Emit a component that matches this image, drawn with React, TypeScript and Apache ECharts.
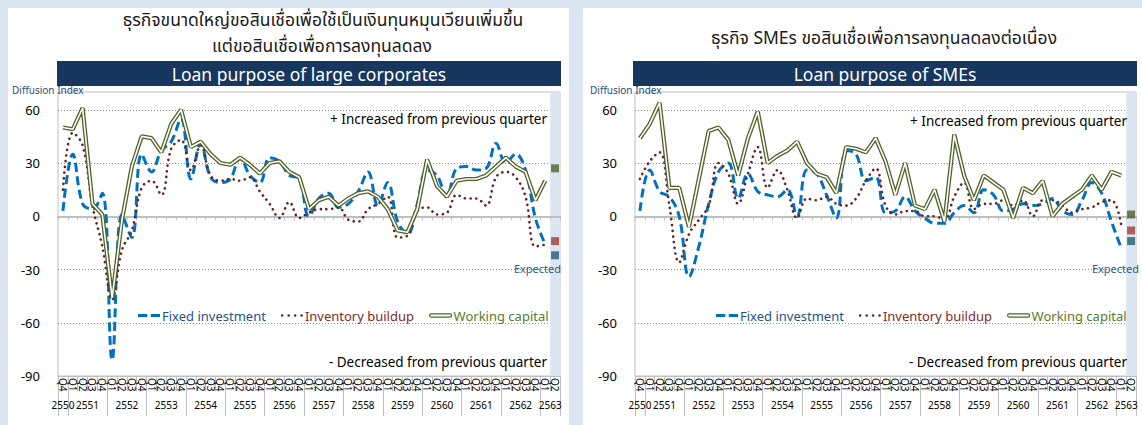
import React, { useEffect, useRef } from 'react';
import * as echarts from 'echarts';

// ---------- Labels ----------
const years = ['2550', '2551', '2552', '2553', '2554', '2555', '2556', '2557', '2558', '2559', '2560', '2561', '2562', '2563'];
const yearQuarters: string[][] = [
  ['Q4'],
  ['Q1', 'Q2', 'Q3', 'Q4'], ['Q1', 'Q2', 'Q3', 'Q4'], ['Q1', 'Q2', 'Q3', 'Q4'], ['Q1', 'Q2', 'Q3', 'Q4'],
  ['Q1', 'Q2', 'Q3', 'Q4'], ['Q1', 'Q2', 'Q3', 'Q4'], ['Q1', 'Q2', 'Q3', 'Q4'], ['Q1', 'Q2', 'Q3', 'Q4'],
  ['Q1', 'Q2', 'Q3', 'Q4'], ['Q1', 'Q2', 'Q3', 'Q4'], ['Q1', 'Q2', 'Q3', 'Q4'], ['Q1', 'Q2', 'Q3', 'Q4'],
  ['Q1', 'Q2'],
];
const yTicks = [-90, -60, -30, 0, 30, 60];

// ---------- Large corporates ----------
const largeFixed = [3, 35, 7, 4, 13, -81, 1, -12, 35, 25, 37, 42, 55, 21, 41, 22, 19, 21, 33, 23, 19, 33, 31, 23, 21, 0, 10, 13, 5, 7, 14, 25, 6, 19, -3, -10, 7, 26, 23, 11, 27, 28, 26, 27, 41, 30, 35, 26, -1, -16];
const largeInventory = [15, 47, 40, 6, -17, -47, -19, -8, 16, 20, 12, 38, 43, 26, 40, 23, 20, 21, 20, 22, 14, 7, -1, 8, -1, 2, 4, 4, 5, -2, -3, 4, 7, 11, -12, -11, 3, 5, 1, 2, 12, 10, 10, 6, 22, 25, 22, 11, -17, -16];
const largeWorking = [50, 49, 61, 7, 1, -46, -2, 28, 45, 44, 36, 52, 60, 39, 42, 35, 30, 29, 33, 29, 24, 30, 31, 25, 22, 4, 9, 11, 6, 10, 13, 14, 11, 4, -8, -9, 4, 32, 17, 11, 20, 21, 21, 23, 28, 33, 28, 25, 9, 20];
const largeExpected = { fixed: -22, inventory: -14, working: 27 };

// ---------- SMEs ----------
const smeFixed = [3, 26, 14, 11, 0, -34, -17, 7, 25, 30, 10, 24, 14, 12, 11, 15, 0, 26, 24, 12, -1, 37, 35, 20, 22, 2, 3, 11, 3, -1, -4, -4, 2, 6, 2, 15, 12, 3, 4, 7, 6, 7, 10, 3, 1, 9, 19, 13, -3, -18];
const smeInventory = [21, 31, 36, 6, -26, -10, -2, 6, 30, 24, 7, 24, 39, 16, 26, 15, -1, 10, 9, 11, 7, 6, 10, 20, 27, 6, 1, 3, 3, 0, 0, -2, 11, 19, 4, 7, 7, 9, 6, 9, 0, 9, 9, 6, 2, 4, 5, 8, 9, -5];
const smeWorking = [44, 52, 64, 16, 16, -6, 21, 48, 50, 43, 23, 44, 59, 30, 34, 37, 42, 30, 24, 22, 13, 39, 38, 36, 44, 31, 12, 30, 6, 4, 15, -3, 46, 23, 9, 23, 19, 15, -1, 16, 13, 20, 0, 7, 11, 15, 23, 15, 25, 23];
const smeExpected = { fixed: -14, inventory: -8, working: 1 };

// ---------- Derived category structure ----------
const categories: string[] = [];
const yearCenters: number[] = [];
const yearBounds: number[] = [0];
{
  let start = 0;
  years.forEach((y, i) => {
    yearQuarters[i].forEach((q) => categories.push(y + '-' + q));
    yearCenters.push(start + yearQuarters[i].length / 2);
    start += yearQuarters[i].length;
    yearBounds.push(start);
  });
}
const N = categories.length;
const lastCat = categories[N - 1];

const FONT = "'Noto Sans', 'DejaVu Sans', sans-serif";
const THAI = "'Noto Sans Thai', 'Noto Sans Thai UI', 'Noto Sans', Tahoma, sans-serif";
const GRAY = '#bfbfbf';
const BLUE = '#0070c0';
const RED = '#632523';
const GREEN = '#4f6228';

const DASH_ICON = 'path://M0,0h9v3h-9z M12.5,0h9v3h-9z';
const DOT_ICON = 'path://M0,1.2a1.2,1.2 0 1,0 2.4,0a1.2,1.2 0 1,0 -2.4,0z M6,1.2a1.2,1.2 0 1,0 2.4,0a1.2,1.2 0 1,0 -2.4,0z M12,1.2a1.2,1.2 0 1,0 2.4,0a1.2,1.2 0 1,0 -2.4,0z M18,1.2a1.2,1.2 0 1,0 2.4,0a1.2,1.2 0 1,0 -2.4,0z';
const DOUBLE_ICON = 'path://M1.5,0h21a1.5,1.5 0 0,1 0,3.6h-21a1.5,1.5 0 0,1 0,-3.6z';

function buildAxes(gi: number) {
  const xAxes = [
    {
      gridIndex: gi, type: 'category', data: categories, boundaryGap: true, position: 'bottom', z: 1.5,
      axisLine: { onZero: true, lineStyle: { color: GRAY, width: 2 } },
      axisTick: { show: true, interval: 0, length: 4, lineStyle: { color: GRAY, width: 1 } },
      axisLabel: { show: false }, splitLine: { show: false },
    },
    {
      gridIndex: gi, type: 'category', data: categories, boundaryGap: true, position: 'bottom',
      axisLine: { show: true, onZero: false, lineStyle: { color: GRAY, width: 1 } },
      axisTick: { show: true, interval: 0, length: 15, lineStyle: { color: GRAY, width: 1 } },
      axisLabel: {
        show: true, interval: 0, rotate: -90, margin: 2, fontSize: 10, color: '#000', fontFamily: FONT,
        formatter: (v: string) => v.split('-')[1],
      },
      splitLine: { show: false },
    },
    {
      gridIndex: gi, type: 'value', min: 0, max: N, position: 'bottom',
      axisLine: { show: false, onZero: false },
      axisTick: { show: true, customValues: yearBounds, length: 40, lineStyle: { color: GRAY, width: 1 } },
      axisLabel: {
        show: true, customValues: yearCenters, margin: 24, fontSize: 10, color: '#000', fontFamily: FONT,
        formatter: (v: number) => {
          const idx = yearCenters.findIndex((c) => Math.abs(c - v) < 1e-6);
          return idx >= 0 ? years[idx] : '';
        },
      },
      splitLine: { show: false },
    },
  ];
  const yAxis = {
    gridIndex: gi, type: 'value', min: yTicks[0], max: 70, interval: 30,
    axisLine: { show: false }, axisTick: { show: false },
    axisLabel: { color: '#000', fontSize: 13, fontFamily: FONT, margin: 18, showMaxLabel: false },
    splitLine: { show: true, showMinLine: false, showMaxLine: false, lineStyle: { color: '#8c8c8c', type: [1, 2], width: 1 } },
  };
  return { xAxes, yAxis };
}

function buildSeries(gi: number, F: number[], I: number[], W: number[], E: { fixed: number; inventory: number; working: number }) {
  const xi = gi * 3;
  return [
    {
      type: 'line', xAxisIndex: xi + 2, yAxisIndex: gi, data: [], silent: true, z: 1,
      markArea: {
        silent: true, itemStyle: { color: '#dce6f2' },
        data: [[{ xAxis: N - 1, yAxis: yTicks[0] }, { xAxis: N, yAxis: 70 }]],
      },
    },
    {
      name: 'Fixed investment', type: 'line', xAxisIndex: xi, yAxisIndex: gi, data: F, symbol: 'none', smooth: 0.4,
      color: BLUE, lineStyle: { color: BLUE, width: 3, type: [9, 4.5] }, z: 3,
    },
    {
      name: 'Inventory buildup', type: 'line', xAxisIndex: xi, yAxisIndex: gi, data: I, symbol: 'none', smooth: 0.4,
      color: RED, lineStyle: { color: RED, width: 2.6, type: [0.1, 5.6], cap: 'round' }, z: 4,
    },
    {
      name: 'Working capital', type: 'line', xAxisIndex: xi, yAxisIndex: gi, data: W, symbol: 'none',
      color: GREEN, lineStyle: { color: GREEN, width: 4.2 }, z: 5,
    },
    {
      name: 'wc-inner', type: 'line', xAxisIndex: xi, yAxisIndex: gi, data: W, symbol: 'none', silent: true,
      color: '#ffffff', lineStyle: { color: '#ffffff', width: 1.6 }, z: 6,
    },
    {
      name: 'exp-working', type: 'scatter', xAxisIndex: xi, yAxisIndex: gi, symbol: 'rect', symbolSize: 8,
      data: [[lastCat, E.working]], itemStyle: { color: '#4f6228' }, z: 7,
    },
    {
      name: 'exp-inventory', type: 'scatter', xAxisIndex: xi, yAxisIndex: gi, symbol: 'rect', symbolSize: 8,
      data: [[lastCat, E.inventory]], itemStyle: { color: '#a33b38' }, z: 7,
    },
    {
      name: 'exp-fixed', type: 'scatter', xAxisIndex: xi, yAxisIndex: gi, symbol: 'rect', symbolSize: 8,
      data: [[lastCat, E.fixed]], itemStyle: { color: '#215d6e' }, z: 7,
    },
  ];
}

function legendFor(left: number) {
  return {
    left, top: 304, width: 440, orient: 'horizontal', itemWidth: 22, itemHeight: 14, itemGap: 15, selectedMode: false,
    textStyle: { fontSize: 13, fontFamily: FONT, padding: [0, 0, 0, -3] },
    data: [
      { name: 'Fixed investment', icon: DASH_ICON, itemStyle: { color: BLUE }, textStyle: { color: '#24528c' } },
      { name: 'Inventory buildup', icon: DOT_ICON, itemStyle: { color: RED }, textStyle: { color: '#7f2a2a' } },
      { name: 'Working capital', icon: DOUBLE_ICON, itemStyle: { color: '#ffffff', borderColor: GREEN, borderWidth: 1.2 }, textStyle: { color: '#5b7a2f' } },
    ],
  };
}

function txt(text: string, x: number, y: number, opts: any = {}) {
  return {
    type: 'text', x, y, silent: true, z: 100,
    style: {
      text, fill: opts.fill || '#000', fontSize: opts.fontSize || 14, fontFamily: opts.fontFamily || FONT,
      align: opts.align || 'left', verticalAlign: 'middle', fontWeight: opts.fontWeight || 'normal',
    },
  };
}

export default function App() {
  const ref = useRef<HTMLDivElement>(null);
  useEffect(() => {
    if (!ref.current) return;
    const chart = echarts.init(ref.current, undefined, { renderer: 'svg' });
    const a0 = buildAxes(0);
    const a1 = buildAxes(1);
    const option: any = {
      animation: false,
      backgroundColor: '#dbe5f1',
      grid: [
        { left: 58, right: 1142 - 560, top: 92, bottom: 425 - 376, show: true, borderColor: GRAY, borderWidth: 1, backgroundColor: '#fff' },
        { left: 635, right: 1142 - 1136, top: 92, bottom: 425 - 376, show: true, borderColor: GRAY, borderWidth: 1, backgroundColor: '#fff' },
      ],
      xAxis: [...a0.xAxes, ...a1.xAxes],
      yAxis: [a0.yAxis, a1.yAxis],
      legend: [legendFor(133), legendFor(711)],
      series: [
        ...buildSeries(0, largeFixed, largeInventory, largeWorking, largeExpected),
        ...buildSeries(1, smeFixed, smeInventory, smeWorking, smeExpected),
      ],
      graphic: [
        { type: 'rect', shape: { x: 8, y: 8, width: 561, height: 420 }, style: { fill: '#ffffff' }, z: -10, silent: true },
        { type: 'rect', shape: { x: 583, y: 8, width: 565, height: 420 }, style: { fill: '#ffffff' }, z: -10, silent: true },
        { type: 'rect', shape: { x: 57, y: 61, width: 504, height: 25 }, style: { fill: '#17375e' }, z: 50, silent: true },
        { type: 'rect', shape: { x: 633, y: 61, width: 504, height: 25 }, style: { fill: '#17375e' }, z: 50, silent: true },
        txt('ธุรกิจขนาดใหญ่ขอสินเชื่อเพื่อใช้เป็นเงินทุนหมุนเวียนเพิ่มขึ้น', 323, 20, { align: 'center', fontSize: 17.5, fontFamily: THAI, fill: '#1a1a1a' }),
        txt('แต่ขอสินเชื่อเพื่อการลงทุนลดลง', 322, 46, { align: 'center', fontSize: 17.5, fontFamily: THAI, fill: '#1a1a1a' }),
        txt('ธุรกิจ SMEs ขอสินเชื่อเพื่อการลงทุนลดลงต่อเนื่อง', 884, 38, { align: 'center', fontSize: 17.5, fontFamily: THAI, fill: '#1a1a1a' }),
        txt('Loan purpose of large corporates', 309, 74, { align: 'center', fontSize: 17.5, fill: '#ffffff' }),
        txt('Loan purpose of SMEs', 885, 74, { align: 'center', fontSize: 17.5, fill: '#ffffff' }),
        txt('Diffusion Index', 12, 90, { fontSize: 10, fill: '#1f4e79' }),
        txt('Diffusion Index', 590, 90, { fontSize: 10, fill: '#1f4e79' }),
        txt('+ Increased from previous quarter', 547, 119, { align: 'right', fontSize: 13.5 }),
        txt('+ Increased from previous quarter', 1127, 121, { align: 'right', fontSize: 13.5 }),
        txt('- Decreased from previous quarter', 547, 362, { align: 'right', fontSize: 13.5 }),
        txt('- Decreased from previous quarter', 1127, 362, { align: 'right', fontSize: 13.5 }),
        txt('Expected', 561, 268, { align: 'right', fontSize: 11, fill: '#2a5a8c' }),
        txt('Expected', 1139, 268, { align: 'right', fontSize: 11, fill: '#2a5a8c' }),
      ],
    };
    chart.setOption(option);
    return () => chart.dispose();
  }, []);
  return <div ref={ref} style={{ position: 'absolute', left: 0, top: 0, width: 1142, height: 425 }} />;
}
